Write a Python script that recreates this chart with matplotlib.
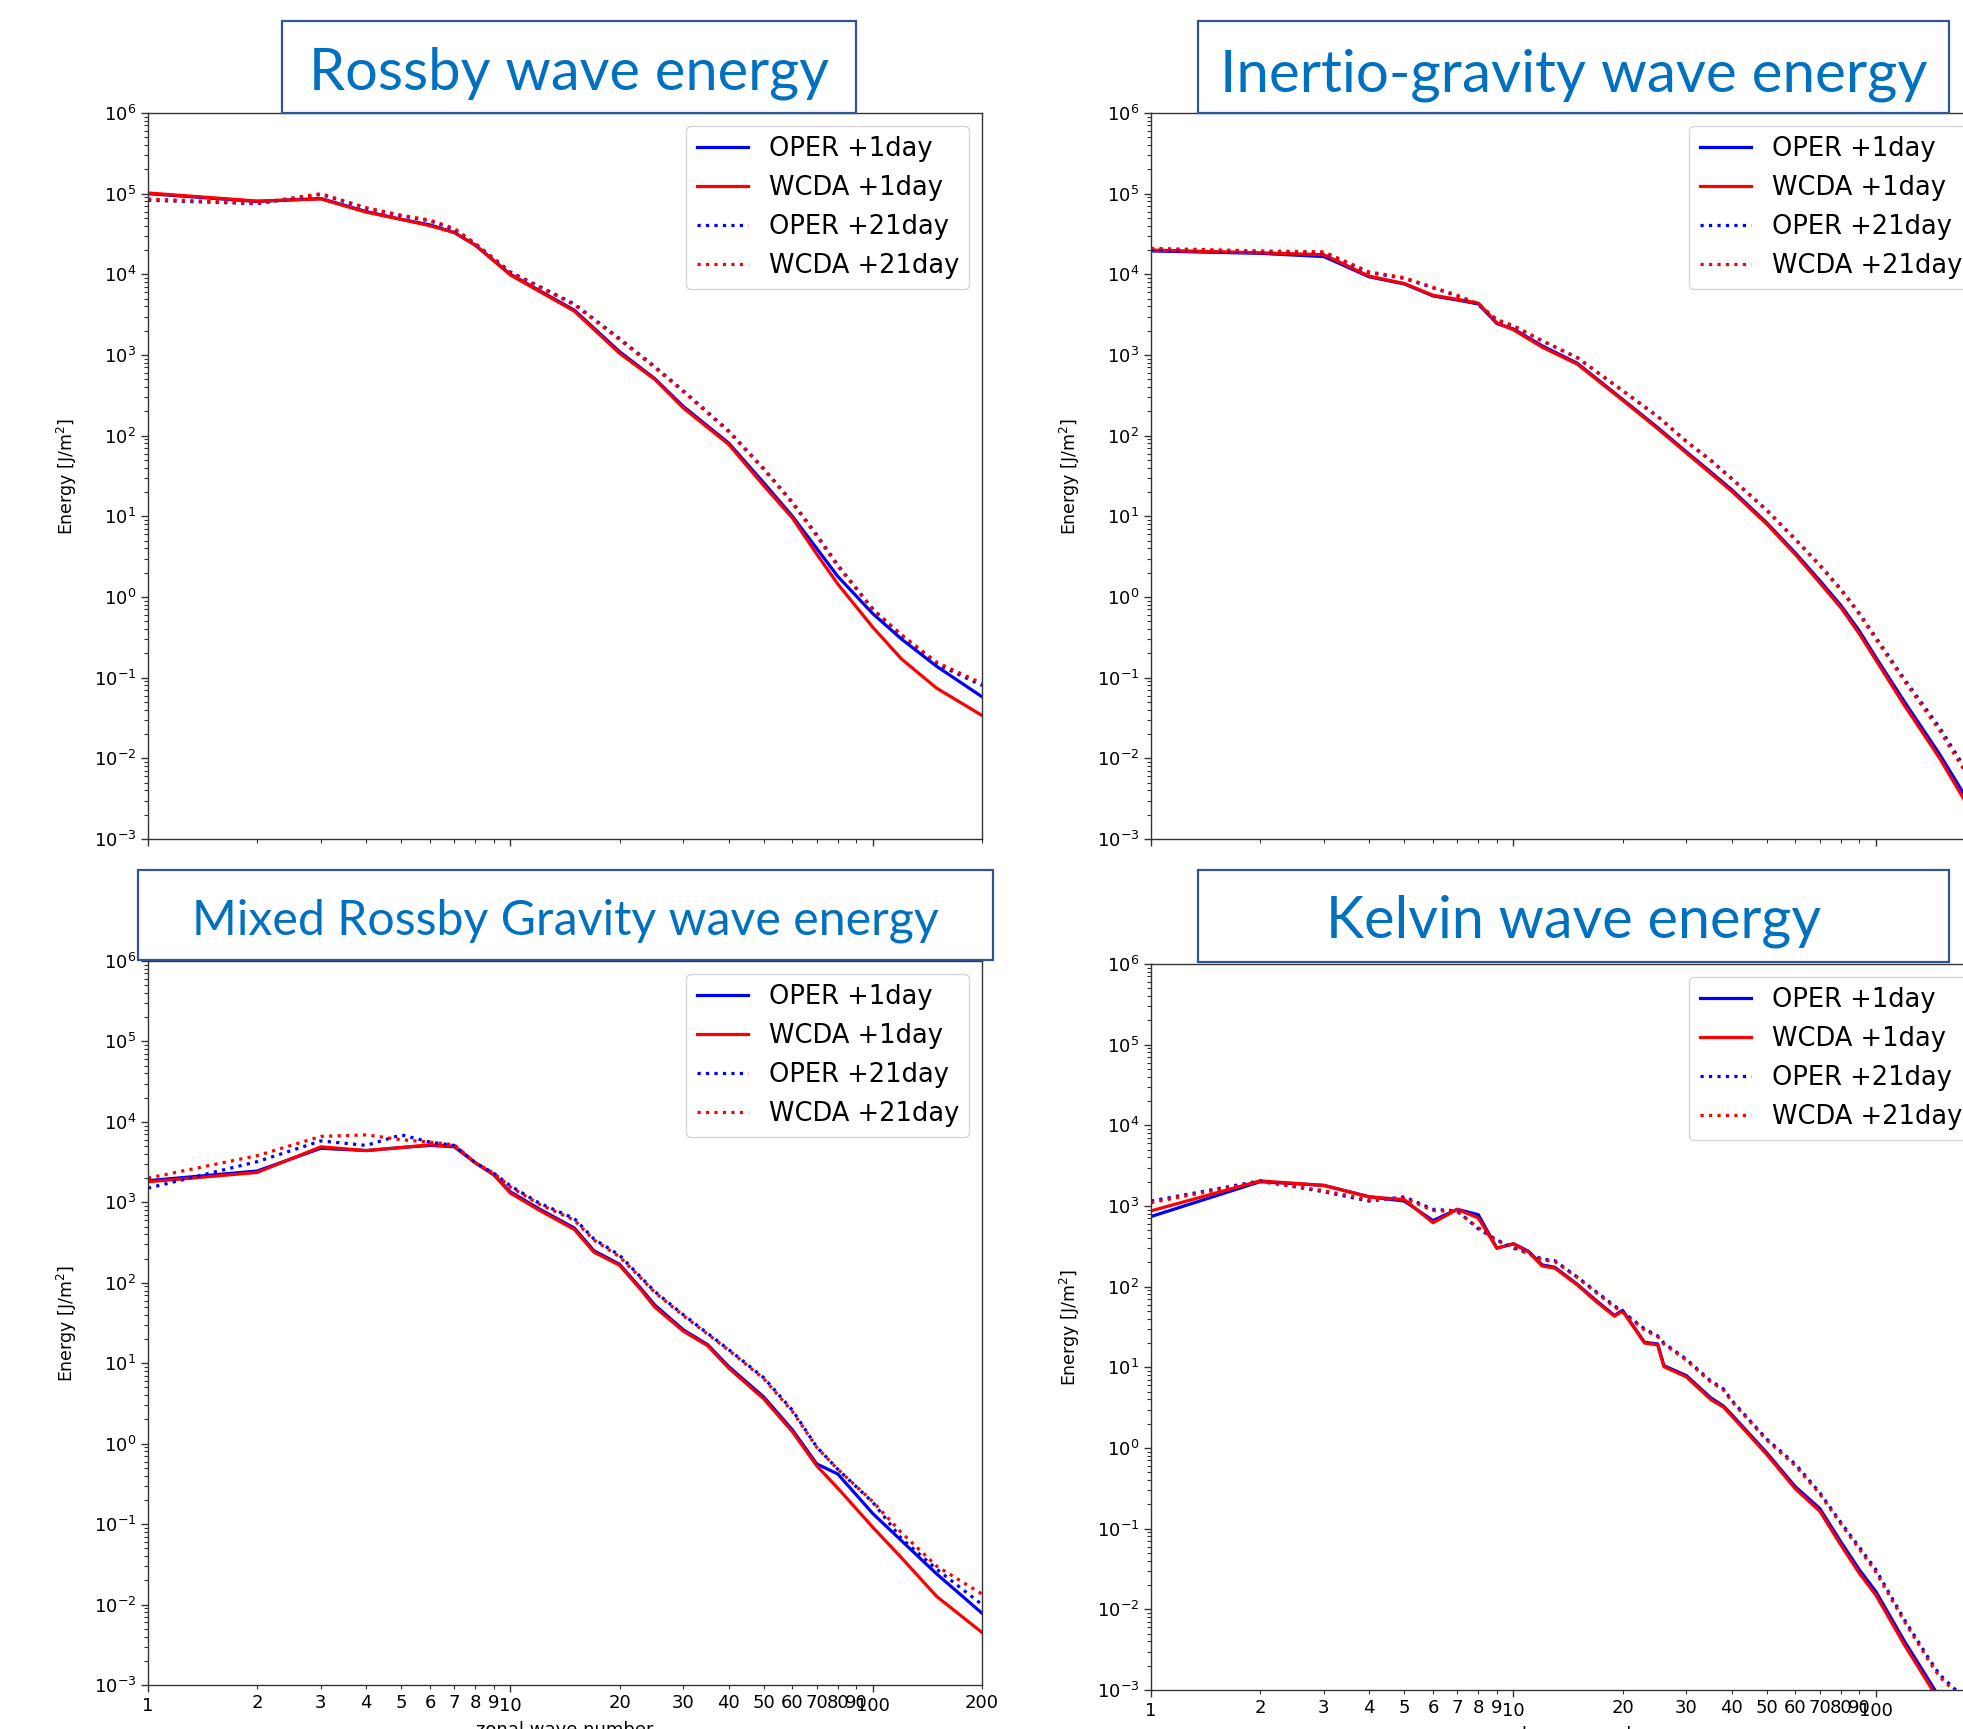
import numpy as np
import matplotlib
matplotlib.use('Agg')
import matplotlib.pyplot as plt
from matplotlib.patches import Rectangle
from matplotlib.ticker import LogLocator, FuncFormatter, NullFormatter

# ---------------- data ----------------
labels = ['OPER +1day', 'WCDA +1day', 'OPER +21day', 'WCDA +21day']

# Rossby wave energy
ross_k = [1, 2, 3, 4, 5, 6, 7, 8, 10, 15, 20, 25, 30, 40, 50, 60, 70, 80, 100, 120, 150, 200]
ross_oper1 = [1.0e5, 8.0e4, 8.7e4, 6.0e4, 4.8e4, 4.1e4, 3.3e4, 2.3e4, 1.0e4, 3.6e3, 1.1e3, 5.1e2,
              2.3e2, 8.1e1, 2.6e1, 1.0e1, 4.0, 1.8, 0.62, 0.30, 0.138, 0.058]
ross_wcda1 = [1.02e5, 8.1e4, 8.6e4, 5.9e4, 4.8e4, 4.0e4, 3.3e4, 2.3e4, 9.8e3, 3.5e3, 1.05e3, 5.0e2,
              2.2e2, 7.8e1, 2.4e1, 9.5, 3.4, 1.45, 0.42, 0.17, 0.074, 0.034]
ross_oper21 = [8.3e4, 7.5e4, 9.8e4, 6.6e4, 5.3e4, 4.6e4, 3.6e4, 2.4e4, 1.07e4, 4.3e3, 1.6e3, 7.2e2,
               3.6e2, 1.15e2, 3.9e1, 1.5e1, 5.9, 2.5, 0.71, 0.33, 0.148, 0.080]
ross_wcda21 = [8.6e4, 7.6e4, 1.0e5, 6.7e4, 5.4e4, 4.7e4, 3.7e4, 2.4e4, 1.05e4, 4.2e3, 1.55e3, 7.0e2,
               3.5e2, 1.12e2, 3.8e1, 1.45e1, 5.7, 2.4, 0.70, 0.34, 0.155, 0.085]

# Inertio-gravity wave energy
ig_k = [1, 2, 3, 4, 5, 6, 7, 8, 9, 10, 12, 15, 20, 25, 30, 35, 40, 50, 60, 70, 80, 90, 100, 120, 150, 175, 200]
ig_oper1 = [1.95e4, 1.82e4, 1.66e4, 9.3e3, 7.6e3, 5.4e3, 4.8e3, 4.3e3, 2.45e3, 2.1e3, 1.3e3, 7.9e2,
            2.82e2, 1.26e2, 6.3e1, 3.55e1, 2.14e1, 8.3, 3.5, 1.6, 0.79, 0.38, 0.178, 0.050, 0.0112,
            0.0036, 0.0010]
ig_wcda1 = [2.0e4, 1.85e4, 1.75e4, 9.5e3, 7.7e3, 5.5e3, 4.9e3, 4.4e3, 2.5e3, 2.05e3, 1.25e3, 7.7e2,
            2.75e2, 1.22e2, 6.1e1, 3.4e1, 2.05e1, 8.0, 3.35, 1.5, 0.74, 0.35, 0.165, 0.045, 0.0100,
            0.0031, 0.0009]
ig_oper21 = [2.04e4, 1.9e4, 1.86e4, 1.05e4, 8.9e3, 6.8e3, 5.4e3, 4.2e3, 2.7e3, 2.3e3, 1.5e3, 9.3e2,
             3.63e2, 1.74e2, 8.5e1, 5.0e1, 2.95e1, 1.2e1, 5.2, 2.5, 1.26, 0.63, 0.316, 0.095, 0.024,
             0.0079, 0.0025]
ig_wcda21 = [2.1e4, 1.95e4, 1.9e4, 1.07e4, 9.1e3, 6.9e3, 5.5e3, 4.3e3, 2.75e3, 2.3e3, 1.5e3, 9.2e2,
             3.6e2, 1.72e2, 8.4e1, 4.9e1, 2.9e1, 1.18e1, 5.1, 2.45, 1.22, 0.61, 0.30, 0.090, 0.022,
             0.0072, 0.0022]

# Mixed Rossby Gravity wave energy
mrg_k = [1, 2, 3, 4, 5, 6, 7, 8, 9, 10, 12, 15, 17, 20, 23, 25, 30, 35, 40, 50, 60, 70, 80, 100, 120, 150, 200]
mrg_oper1 = [1.86e3, 2.45e3, 4.7e3, 4.4e3, 4.8e3, 5.1e3, 4.9e3, 3.1e3, 2.2e3, 1.35e3, 8.3e2, 4.8e2,
             2.5e2, 1.7e2, 8.3e1, 5.3e1, 2.6e1, 1.7e1, 9.1, 3.8, 1.48, 0.56, 0.42, 0.135, 0.062,
             0.024, 0.0078]
mrg_wcda1 = [1.8e3, 2.35e3, 4.9e3, 4.4e3, 4.8e3, 5.2e3, 5.0e3, 3.1e3, 2.2e3, 1.3e3, 8.0e2, 4.6e2,
             2.4e2, 1.65e2, 8.0e1, 5.0e1, 2.5e1, 1.65e1, 8.7, 3.6, 1.40, 0.53, 0.28, 0.091, 0.038,
             0.0126, 0.0045]
mrg_oper21 = [1.5e3, 3.2e3, 5.8e3, 5.1e3, 6.9e3, 5.6e3, 5.1e3, 3.1e3, 2.3e3, 1.6e3, 9.8e2, 6.3e2,
              3.5e2, 2.2e2, 1.15e2, 7.8e1, 4.0e1, 2.35e1, 1.48e1, 6.6, 2.6, 0.91, 0.48, 0.186, 0.066,
              0.0275, 0.010]
mrg_wcda21 = [2.0e3, 3.8e3, 6.6e3, 6.9e3, 6.0e3, 5.6e3, 5.2e3, 3.1e3, 2.3e3, 1.55e3, 9.5e2, 6.0e2,
              3.4e2, 2.1e2, 1.12e2, 7.6e1, 3.9e1, 2.3e1, 1.45e1, 6.4, 2.5, 0.90, 0.48, 0.19, 0.078,
              0.030, 0.0135]

# Kelvin wave energy
kel_k = [1, 2, 3, 4, 5, 6, 7, 8, 9, 10, 11, 12, 13, 15, 17, 19, 20, 23, 25, 26, 30, 35, 38, 40, 50,
         60, 70, 80, 90, 100, 120, 140, 150, 175]
kel_oper1 = [7.4e2, 2.0e3, 1.8e3, 1.3e3, 1.15e3, 6.6e2, 9.1e2, 7.8e2, 3.0e2, 3.4e2, 2.75e2, 1.86e2,
             1.74e2, 1.07e2, 6.6e1, 4.4e1, 5.1e1, 2.04e1, 1.95e1, 1.05e1, 7.9, 4.2, 3.3, 2.6, 0.87,
             0.33, 0.178, 0.069, 0.031, 0.0166, 0.0040, 0.00132, 0.0008, 0.0003]
kel_wcda1 = [8.7e2, 2.05e3, 1.8e3, 1.3e3, 1.2e3, 6.2e2, 9.1e2, 7.1e2, 3.0e2, 3.4e2, 2.7e2, 1.8e2,
             1.7e2, 1.05e2, 6.4e1, 4.3e1, 5.0e1, 2.0e1, 1.9e1, 1.02e1, 7.6, 4.0, 3.2, 2.5, 0.83,
             0.31, 0.165, 0.063, 0.028, 0.0150, 0.0036, 0.00118, 0.0007, 0.00026]
kel_oper21 = [1.15e3, 2.05e3, 1.5e3, 1.15e3, 1.3e3, 9.1e2, 8.7e2, 5.2e2, 3.8e2, 3.0e2, 2.6e2, 2.2e2,
              2.1e2, 1.32e2, 8.5e1, 5.8e1, 4.9e1, 3.0e1, 2.45e1, 2.0e1, 1.26e1, 6.8, 5.4, 3.9, 1.29,
              0.63, 0.28, 0.12, 0.059, 0.031, 0.0074, 0.00245, 0.00155, 0.0008]
kel_wcda21 = [1.1e3, 2.0e3, 1.55e3, 1.2e3, 1.25e3, 8.8e2, 8.5e2, 5.4e2, 3.7e2, 3.1e2, 2.55e2, 2.15e2,
              2.05e2, 1.3e2, 8.3e1, 5.6e1, 4.8e1, 2.9e1, 2.4e1, 1.95e1, 1.22e1, 6.6, 5.2, 3.8, 1.25,
              0.60, 0.27, 0.115, 0.056, 0.029, 0.0070, 0.0023, 0.00145, 0.00075]

xticks_fmt = lambda v, p: f'{v:g}'

# ---------------- layout ----------------
W, H = 1963, 1729
DPI = 100
fig = plt.figure(figsize=(W / DPI, H / DPI), dpi=DPI)
fig.patch.set_facecolor('white')


def fx(px):
    return px / W


def fy(py):
    return 1 - py / H


panels = [
    dict(title='Rossby wave energy', k=ross_k, ys=[ross_oper1, ross_wcda1, ross_oper21, ross_wcda21],
         ax=(148, 113, 982, 839), box=(282, 21, 856, 113), tw=520, base=90, bottom=False),
    dict(title='Inertio-gravity wave energy', k=ig_k, ys=[ig_oper1, ig_wcda1, ig_oper21, ig_wcda21],
         ax=(1151, 113, 1985, 839), box=(1198, 21, 1949, 113), tw=707, base=91, bottom=False),
    dict(title='Mixed Rossby Gravity wave energy', k=mrg_k, ys=[mrg_oper1, mrg_wcda1, mrg_oper21, mrg_wcda21],
         ax=(148, 961, 982, 1685), box=(138, 870, 993, 960), tw=746, base=934, bottom=True),
    dict(title='Kelvin wave energy', k=kel_k, ys=[kel_oper1, kel_wcda1, kel_oper21, kel_wcda21],
         ax=(1151, 964, 1985, 1690), box=(1198, 870, 1949, 962), tw=495, base=937, bottom=True),
]

styles = [dict(color='blue', ls='-'), dict(color='red', ls='-'),
          dict(color='blue', ls=':'), dict(color='red', ls=':')]

renderer = fig.canvas.get_renderer()

for p in panels:
    l, t, r, b = p['ax']
    ax = fig.add_axes([fx(l), fy(b), (r - l) / W, (b - t) / H])
    ax.set_xscale('log')
    ax.set_yscale('log')
    for ys, st, lab in zip(p['ys'], styles, labels):
        ax.plot(p['k'], ys, lw=2.3, label=lab, **st)
    ax.set_xlim(1, 200)
    ax.set_ylim(1e-3, 1e6)
    ax.yaxis.set_major_locator(LogLocator(base=10, numticks=20))
    ax.yaxis.set_minor_locator(LogLocator(base=10, subs=np.arange(2, 10), numticks=20))
    ax.yaxis.set_minor_formatter(NullFormatter())
    ax.xaxis.set_major_formatter(FuncFormatter(xticks_fmt))
    ax.xaxis.set_minor_formatter(FuncFormatter(xticks_fmt))
    ax.tick_params(which='major', length=5, width=1.0, labelsize=13, color='#333333')
    ax.tick_params(which='minor', length=3, width=0.8, labelsize=13, color='#333333')
    for s in ax.spines.values():
        s.set_linewidth(1.0)
        s.set_color('#333333')
    if not p['bottom']:
        ax.tick_params(which='both', labelbottom=False)
    else:
        ax.set_xlabel('zonal wave number', fontsize=13, labelpad=4.5)
    ax.set_ylabel('Energy [J/m$^2$]', fontsize=12.5)
    ax.yaxis.set_label_coords(-0.083, 0.5)
    ax.legend(loc='upper right', fontsize=18.5)

    # title box
    x0, y0, x1, y1 = p['box']
    rect = Rectangle((fx(x0), fy(y1)), (x1 - x0) / W, (y1 - y0) / H, transform=fig.transFigure,
                     facecolor='white', edgecolor='#2F5597', lw=1.6, zorder=5)
    fig.add_artist(rect)
    txt = fig.text(fx((x0 + x1) / 2), fy(p['base']), p['title'], ha='center', va='baseline',
                   fontsize=40, color='#0070C0', family='Lato', zorder=6)
    w = txt.get_window_extent(renderer=renderer).width
    txt.set_fontsize(40 * p['tw'] / w)

fig.savefig('out.png', dpi=DPI)
